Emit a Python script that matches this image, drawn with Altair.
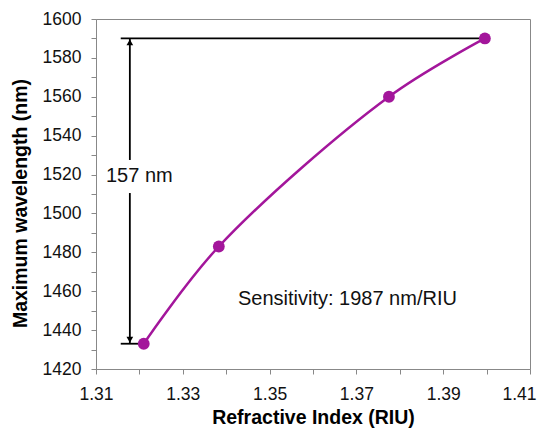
import altair as alt
import pandas as pd

# measured data
refractive_index = [1.321, 1.3383, 1.3775, 1.3996]
wavelength = [1433, 1483, 1560, 1590]

# annotation values (data units)
arrow_x = 1.3178
bracket_start = 1.3157
gap_top = 1527.5
gap_bottom = 1510.5
shift_label = "157 nm"
shift_label_x = 1.3123
shift_label_y = 1519.5
sens_label = "Sensitivity: 1987 nm/RIU"
sens_label_x = 1.3427
sens_label_y = 1453

x_ticks = [round(1.31 + 0.01 * i, 2) for i in range(11)]
y_ticks = [1420 + 10 * i for i in range(19)]

FONT = "Liberation Sans"
PURPLE = "#A3169B"

df = pd.DataFrame({"ri": refractive_index, "wl": wavelength})

xs = alt.Scale(domain=[1.31, 1.41], nice=False, zero=False)
ys = alt.Scale(domain=[1420, 1600], nice=False, zero=False)

x_axis = alt.Axis(
    title="Refractive Index (RIU)", values=x_ticks, format=".2f",
    labelExpr="round(datum.value*100) % 2 == 1 ? datum.label : ''",
    labelPadding=11, titlePadding=6, labelOverlap=False,
    labelOffset={"condition": {"test": "datum.value > 1.405", "value": -11}, "value": 0},
)
y_axis = alt.Axis(
    title="Maximum wavelength (nm)", values=y_ticks, format="d",
    labelExpr="datum.value % 20 == 0 ? datum.label : ''",
    labelPadding=10, titlePadding=12, titleY=184, labelOverlap=False,
)

line = alt.Chart(df).mark_line(
    interpolate="catmull-rom", color=PURPLE, strokeWidth=2.5
).encode(
    x=alt.X("ri:Q", scale=xs, axis=x_axis),
    y=alt.Y("wl:Q", scale=ys, axis=y_axis),
)

pts = alt.Chart(df).mark_circle(size=140, color=PURPLE, opacity=1).encode(
    x=alt.X("ri:Q", scale=xs, axis=x_axis), y=alt.Y("wl:Q", scale=ys, axis=y_axis)
)

hlines_df = pd.DataFrame({
    "x1": [bracket_start, bracket_start],
    "x2": [refractive_index[-1], refractive_index[0]],
    "y": [wavelength[-1], wavelength[0]],
})
hlines = alt.Chart(hlines_df).mark_rule(color="black", strokeWidth=1.8).encode(
    x=alt.X("x1:Q", scale=xs, axis=x_axis), x2="x2:Q", y=alt.Y("y:Q", scale=ys, axis=y_axis)
)

vlines_df = pd.DataFrame({
    "x": [arrow_x, arrow_x],
    "y1": [wavelength[-1], wavelength[0]],
    "y2": [gap_top, gap_bottom],
})
vlines = alt.Chart(vlines_df).mark_rule(color="black", strokeWidth=1.8).encode(
    x=alt.X("x:Q", scale=xs, axis=x_axis), y=alt.Y("y1:Q", scale=ys, axis=y_axis), y2="y2:Q"
)

head_up = alt.Chart(pd.DataFrame({"x": [arrow_x], "y": [wavelength[-1]]})).mark_point(
    shape="triangle-up", filled=True, color="black", size=45, opacity=1, yOffset=4
).encode(x=alt.X("x:Q", scale=xs, axis=x_axis), y=alt.Y("y:Q", scale=ys, axis=y_axis))
head_down = alt.Chart(pd.DataFrame({"x": [arrow_x], "y": [wavelength[0]]})).mark_point(
    shape="triangle-down", filled=True, color="black", size=45, opacity=1, yOffset=-4
).encode(x=alt.X("x:Q", scale=xs, axis=x_axis), y=alt.Y("y:Q", scale=ys, axis=y_axis))

t1 = alt.Chart(pd.DataFrame({"x": [shift_label_x], "y": [shift_label_y], "t": [shift_label]})).mark_text(
    align="left", baseline="middle", fontSize=20, font=FONT, color="#111111"
).encode(x=alt.X("x:Q", scale=xs, axis=x_axis), y=alt.Y("y:Q", scale=ys, axis=y_axis), text="t:N")

t2 = alt.Chart(pd.DataFrame({"x": [sens_label_x], "y": [sens_label_y], "t": [sens_label]})).mark_text(
    align="left", baseline="alphabetic", fontSize=20, font=FONT, color="#111111"
).encode(x=alt.X("x:Q", scale=xs, axis=x_axis), y=alt.Y("y:Q", scale=ys, axis=y_axis), text="t:N")

chart = alt.layer(line, hlines, vlines, head_up, head_down, pts, t1, t2).properties(
    width=434, height=350,
    autosize=alt.AutoSizeParams(type="none"),
    padding={"left": 88, "top": 11, "right": 9, "bottom": 60},
    background="white",
).configure_view(
    stroke="#888888", strokeWidth=1
).configure_axis(
    grid=False, tickSize=5, labelFontSize=17.5, titleFontSize=19.5,
    titleFontWeight="bold", domainColor="#888888", tickColor="#888888",
    labelColor="#111111", titleColor="#000000", labelFont=FONT, titleFont=FONT,
    labelFlush=False, labelOverlap=False, labelBound=False,
)

chart.save("out.html", embed_options={"renderer": "svg", "actions": False})
